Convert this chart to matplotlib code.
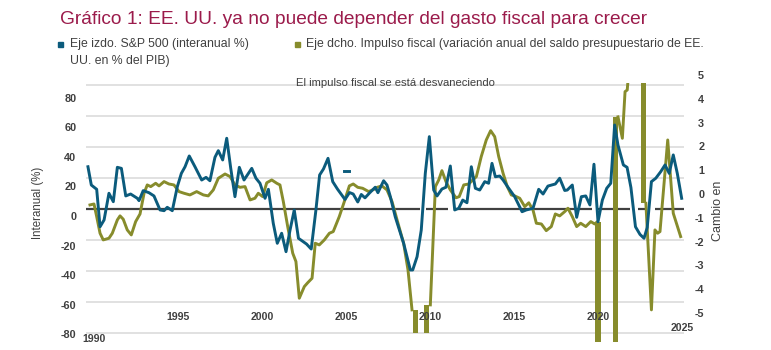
import numpy as np
import matplotlib
matplotlib.use("Agg")
import matplotlib.pyplot as plt
import matplotlib.transforms as mtransforms
from matplotlib.patches import Rectangle

plt.rcParams["axes.unicode_minus"] = False

# --- data ---
# S&P 500, interanual % (left axis)
blue_years = [1989.64, 1989.84, 1990.16, 1990.36, 1990.60, 1990.89, 1991.15, 1991.39, 1991.63, 1991.89,
              1992.18, 1992.58, 1992.68, 1992.93, 1993.27, 1993.57, 1993.93, 1994.17, 1994.36, 1994.66,
              1994.96, 1995.20, 1995.42, 1995.67, 1996.01, 1996.41, 1996.67, 1996.90, 1997.20, 1997.40,
              1997.66, 1997.90, 1998.14, 1998.39, 1998.65, 1998.93, 1999.39, 1999.64, 1999.88, 2000.18,
              2000.38, 2000.67, 2000.91, 2001.17, 2001.43, 2001.67, 2001.92, 2002.17, 2002.65, 2002.93,
              2003.21, 2003.43, 2003.66, 2003.93, 2004.21, 2004.49, 2004.94, 2005.21, 2005.43, 2005.70,
              2005.91, 2006.13, 2006.40, 2006.74, 2006.90, 2007.24, 2007.44, 2007.64, 2007.93, 2008.43,
              2008.63, 2008.83, 2008.97, 2009.23, 2009.48, 2009.72, 2009.96, 2010.22, 2010.42, 2010.71,
              2010.95, 2011.21, 2011.47, 2011.71, 2011.95, 2012.20, 2012.46, 2012.70, 2012.96, 2013.26,
              2013.49, 2013.69, 2013.89, 2014.15, 2014.35, 2014.64, 2015.04, 2015.48, 2015.73, 2016.13,
              2016.47, 2016.73, 2017.02, 2017.46, 2017.72, 2018.02, 2018.17, 2018.47, 2018.73, 2019.01,
              2019.27, 2019.52, 2019.76, 2020.00, 2020.26, 2020.52, 2020.76, 2020.99, 2021.19, 2021.51,
              2021.73, 2021.96, 2022.23, 2022.50, 2022.74, 2022.93, 2023.18, 2023.44, 2023.73, 2023.99,
              2024.24, 2024.48, 2024.72, 2024.98]
blue_vals = [33.4, 21.0, 18.1, -7.3, -2.7, 15.4, 9.7, 33.0, 32.3, 13.6,
             14.9, 12.0, 10.4, 17.2, 15.8, 13.6, 4.1, 3.6, 5.9, 3.6,
             19.9, 28.9, 33.4, 40.7, 33.4, 24.4, 26.2, 23.9, 39.8, 44.3,
             38.0, 52.7, 32.3, 13.1, 33.0, 24.4, 32.3, 25.6, 22.2, 12.0,
             18.1, -4.9, -18.5, -11.7, -24.2, -9.5, 4.1, -15.1, -19.0, -22.4,
             4.1, 27.8, 31.9, 39.1, 23.3, 18.3, 11.2, 15.9, 14.9, 9.5,
             14.6, 12.3, 15.6, 19.5, 15.8, 23.9, 21.0, 13.1, -0.5, -18.5,
             -27.6, -36.6, -36.6, -27.6, -9.5, 28.9, 53.8, 17.6, 13.6, 18.3,
             19.5, 33.9, 4.1, 5.2, 10.8, 9.0, 33.4, 18.8, 17.6, 23.3,
             22.2, 35.7, 26.6, 27.1, 24.4, 19.5, 13.1, 2.9, 4.1, 5.2,
             18.1, 14.9, 20.3, 21.7, 25.6, 17.3, 17.6, 21.0, -0.9, 13.1,
             13.6, 7.5, 35.1, -3.9, 10.8, 18.8, 22.2, 61.7, 48.1, 34.6,
             33.0, 19.3, -7.3, -12.5, -15.1, -7.8, 23.3, 25.6, 30.0, 34.6,
             28.9, 41.4, 28.9, 12.0]
# stray short dash of the S&P series in 2005
blue_dash_years = [2004.91, 2005.16]
blue_dash_vals = [30.8, 30.8]

# fiscal impulse, % of GDP (right axis); nan where the series leaves the chart
olive_years = [1989.76, 1990.00, 1990.16, 1990.36, 1990.55, 1990.89, 1991.09, 1991.39, 1991.55, 1991.74,
               1991.98, 1992.22, 1992.48, 1992.74, 1992.98, 1993.17, 1993.38, 1993.67, 1993.87, 1994.17,
               1994.46, 1994.76, 1995.06, 1995.36, 1995.71, 1996.11, 1996.51, 1996.80, 1997.10, 1997.40,
               1997.80, 1998.10, 1998.39, 1998.69, 1998.99, 1999.29, 1999.58, 1999.78, 2000.04, 2000.28,
               2000.58, 2000.88, 2001.07, 2001.27, 2001.53, 2001.83, 2002.02, 2002.22, 2002.52, 2002.72,
               2002.98, 2003.17, 2003.41, 2003.71, 2004.01, 2004.24, 2004.60, 2004.90, 2005.20, 2005.43,
               2005.70, 2005.99, 2006.35, 2006.68, 2006.85, 2007.14, 2007.44, 2007.74, 2008.04, 2008.43,
               2008.69, 2008.93, 2009.5, 2010.02, 2010.32, 2010.52, 2010.71, 2010.95, 2011.21, 2011.55,
               2011.74, 2012.01, 2012.30, 2012.76, 2013.05, 2013.35, 2013.61, 2013.85, 2014.09, 2014.35,
               2014.60, 2014.84, 2015.04, 2015.34, 2015.64, 2015.88, 2016.13, 2016.33, 2016.63, 2016.92,
               2017.22, 2017.46, 2017.72, 2018.02, 2018.21, 2018.47, 2018.73, 2018.97, 2019.27, 2019.57,
               2019.80, 2019.94, 2020.5, 2021.19, 2021.45, 2021.61, 2021.74, 2021.87, 2022.3, 2022.85,
               2023.18, 2023.39, 2023.55, 2023.69, 2024.15, 2024.48, 2024.92]
olive_vals = [-0.46, -0.42, -0.95, -1.65, -1.93, -1.86, -1.65, -1.09, -0.92, -1.06,
              -1.51, -1.72, -1.16, -0.84, 0.03, 0.38, 0.31, 0.45, 0.34, 0.52,
              0.42, 0.38, 0.10, 0.03, -0.04, 0.10, -0.04, -0.08, 0.17, 0.66,
              0.84, 0.73, 0.38, 0.28, 0.31, -0.25, -0.18, 0.03, -0.11, 0.47,
              0.59, 0.45, 0.38, -0.32, -1.37, -2.49, -2.84, -4.38, -3.89, -3.73,
              -3.54, -2.07, -2.14, -1.93, -1.65, -1.58, -0.95, -0.32, 0.34, 0.42,
              0.28, 0.24, 0.10, 0.20, 0.28, 0.34, 0.17, -0.32, -1.09, -2.07,
              -3.19, -4.87, np.nan, -4.66, 0.31, 0.59, 0.98, 0.52, 0.17, -0.16,
              -0.11, 0.38, 0.42, 0.73, 1.57, 2.27, 2.66, 2.41, 1.57, 0.87,
              0.31, -0.04, -0.08, -0.18, -0.53, -0.37, -0.67, -1.23, -1.26, -1.54,
              -1.37, -0.84, -0.92, -0.74, -0.60, -0.95, -1.37, -1.23, -1.37, -1.16,
              -1.26, -1.18, np.nan, 3.24, 2.34, 4.30, 4.37, 5.5, np.nan, -0.39,
              -4.87, -1.51, -1.65, -1.58, 2.27, -0.81, -1.79]
# thick stubs where the fiscal series runs off the chart
stub_years = [2009.11, 2009.82, 2020.00, 2021.07, 2022.73]
stub_low = [-5.84, -5.84, -6.22, -6.22, -0.39]
stub_high = [-4.87, -4.66, -1.16, 3.25, 4.66]

left_ticks = [-80, -60, -40, -20, 0, 20, 40, 60, 80]
right_ticks = [-5, -4, -3, -2, -1, 0, 1, 2, 3, 4, 5]
year_ticks = [1990, 1995, 2000, 2005, 2010, 2015, 2020, 2025]
zero_starts = [1989.52, 2009.76, 2011.67, 2020.00, 2021.19, 2022.38, 2023.39]
zero_ends = [2009.38, 2011.07, 2019.64, 2020.89, 2021.90, 2022.92, 2025.12]

title = "Gráfico 1: EE. UU. ya no puede depender del gasto fiscal para crecer"
leg1 = "Eje izdo. S&P 500 (interanual %)"
leg1b = "UU. en % del PIB)"
leg2 = "Eje dcho. Impulso fiscal (variación anual del saldo presupuestario de EE."
note = "El impulso fiscal se está desvaneciendo"

BLUE = "#0b5b7c"
OLIVE = "#878c2c"
DARK = "#404040"
GRID = "#d9d9d9"
SANS = ["Liberation Sans", "DejaVu Sans"]

W, H = 771, 350
fig = plt.figure(figsize=(W / 100, H / 100), dpi=100)
rect = [86 / W, 1 - 342 / H, 598 / W, 272 / H]
x0, x1 = 1989.524, 2025.119

# gridlines live on their own frame
axg = fig.add_axes(rect)
axg.set_xlim(x0, x1)
axg.set_ylim(-4.277, 4.469)
axg.axis("off")
for k in range(-4, 5):
    if k != 0:
        axg.axhline(k, color=GRID, lw=1.1)
axg.hlines([0] * len(zero_starts), zero_starts, zero_ends, color=DARK, lw=1.6)

ax = fig.add_axes(rect)
ax2 = ax.twinx()
ax2.set_zorder(1)
ax.set_zorder(2)
ax.patch.set_visible(False)
ax2.patch.set_visible(False)

ax.set_xlim(x0, x1)
ax.set_ylim(-85.42, 98.98)
ax2.set_ylim(-6.22, 5.21)

clip = Rectangle((x0 - 1, -6.3), 40, 4.66 + 6.3, transform=ax2.transData)
ln, = ax2.plot(olive_years, olive_vals, color=OLIVE, lw=2.1, solid_joinstyle="round")
ln.set_clip_path(clip)
ax2.bar(stub_years, np.array(stub_high) - np.array(stub_low), bottom=stub_low,
        width=0.3, color=OLIVE, linewidth=0)

ax.plot(blue_years, blue_vals, color=BLUE, lw=2.1, solid_joinstyle="round")
ax.plot(blue_dash_years, blue_dash_vals, color=BLUE, lw=2.1)

for a in (ax, ax2):
    for s in a.spines.values():
        s.set_visible(False)
    a.tick_params(axis="x", bottom=False, labelbottom=False)

ax.set_yticks(left_ticks)
ax.tick_params(axis="y", length=0, pad=7, labelsize=7.8, labelcolor=DARK)
ax2.set_yticks(right_ticks)
ax2.tick_params(axis="y", length=0, pad=14.5, labelsize=7.8, labelcolor=DARK)
for t in ax.get_yticklabels():
    t.set_fontweight("bold")
    t.set_family(SANS)
for t in ax2.get_yticklabels():
    t.set_fontweight("bold")
    t.set_family(SANS)
    t.set_horizontalalignment("right")

trans = mtransforms.blended_transform_factory(ax.transData, ax.transAxes)
for yr in year_ticks:
    if yr == year_ticks[0]:
        yy = 0.011
    elif yr == year_ticks[-1]:
        yy = 0.052
    else:
        yy = 0.092
    ax.text(yr, yy, str(yr), transform=trans, ha="center", va="center",
            fontsize=7.6, fontweight="bold", color=DARK, family=SANS)

fig.text(38 / W, 1 - 203 / H, "Interanual (%)", rotation=90, ha="center", va="center",
         fontsize=8.3, color=DARK, family=SANS)
fig.text(718 / W, 1 - 211 / H, "Cambio en", rotation=90, ha="center", va="center",
         fontsize=9, color=DARK, family=SANS)

fig.text(60 / W, 1 - 19 / H, title, ha="left", va="center", fontsize=13.8,
         color="#9b1b4b", family=SANS)
fig.add_artist(Rectangle((58 / W, 1 - 47 / H), 5 / W, 5 / H, color=BLUE, transform=fig.transFigure))
fig.add_artist(Rectangle((295 / W, 1 - 47 / H), 5 / W, 5 / H, color=OLIVE, transform=fig.transFigure))
fig.text(70 / W, 1 - 44 / H, leg1, ha="left", va="center", fontsize=8.8, color=DARK, family=SANS)
fig.text(70 / W, 1 - 61 / H, leg1b, ha="left", va="center", fontsize=8.8, color=DARK, family=SANS)
fig.text(306 / W, 1 - 44 / H, leg2, ha="left", va="center", fontsize=8.8, color=DARK, family=SANS)
fig.text(296 / W, 1 - 83 / H, note, ha="left", va="center", fontsize=8.1, color=DARK, family=SANS)

fig.savefig("out.png", dpi=100)
